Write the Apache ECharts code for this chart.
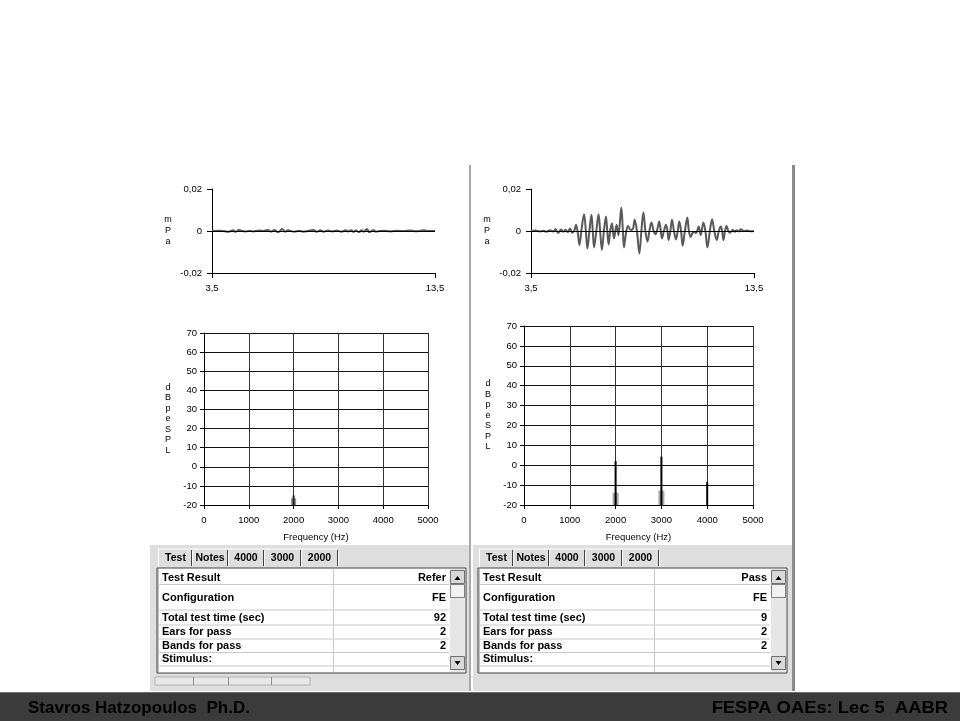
<!DOCTYPE html>
<html><head><meta charset="utf-8">
<script src="https://cdn.jsdelivr.net/npm/echarts@6/dist/echarts.min.js"></script>
<style>html,body{margin:0;padding:0;background:#fff}#c{width:960px;height:721px}</style>
</head><body><div id="c"></div><script>
// ---------- DATA ----------
// Time waveforms (ms, mPa)
const waveLeft = [[3.5,0],[3.9,0.0001],[4.25,-0.0004],[4.45,0.0004],[4.55,-0.0004],[4.7,0.0005],[4.85,0],[5.0,-0.0002],[5.2,0.0001],[5.35,-0.0002],[5.6,0.0002],[5.8,0],[6.0,0.0005],[6.15,-0.0003],[6.3,0.0005],[6.45,-0.0006],[6.55,0],[6.65,0.001],[6.78,-0.0003],[6.9,0.0004],[7.0,0.0001],[7.2,-0.0003],[7.4,0.0001],[7.6,-0.0003],[7.8,0],[8.05,0.0005],[8.2,-0.0004],[8.35,0.0004],[8.5,-0.0003],[8.7,0.0002],[8.9,-0.0002],[9.1,0.0002],[9.3,-0.0003],[9.5,0.0003],[9.6,-0.0002],[9.75,0.0004],[9.85,-0.0004],[9.95,0.0002],[10.1,-0.0005],[10.2,0.0003],[10.3,-0.0003],[10.45,0.001],[10.55,-0.0006],[10.65,0],[10.75,0.0004],[10.85,-0.0004],[11.0,0],[11.2,0.0001],[11.5,-0.0002],[11.8,0.0001],[12.1,0],[12.4,0.0002],[12.7,-0.0001],[13.0,0.0003],[13.2,0],[13.5,0]];
const waveRight = [[3.5,0],[3.7,0.0002],[3.9,-0.0002],[4.05,0.0001],[4.2,-0.0003],[4.35,0.0004],[4.5,-0.0002],[4.6,0.0008],[4.72,-0.0009],[4.85,0.0007],[4.95,-0.0004],[5.05,0.0006],[5.15,-0.0005],[5.25,0.0012],[5.35,-0.0008],[5.45,0.0004],[5.52,0.003],[5.6,-0.001],[5.67,-0.0067],[5.78,0.002],[5.88,0.008],[5.96,0],[6.03,-0.0083],[6.12,0],[6.21,0.0077],[6.27,0],[6.33,-0.0078],[6.43,0],[6.53,0.008],[6.6,0],[6.68,-0.009],[6.77,0],[6.86,0.0069],[6.92,0],[6.98,-0.0064],[7.05,0],[7.13,0.0037],[7.22,-0.0035],[7.34,0.003],[7.42,-0.002],[7.55,0.0112],[7.62,0],[7.67,-0.0078],[7.76,-0.001],[7.85,0.0024],[7.97,0.0005],[8.07,0.001],[8.15,0.0053],[8.25,0],[8.36,-0.0107],[8.45,0],[8.54,0.0088],[8.63,0],[8.72,-0.005],[8.81,0],[8.9,0.004],[9.0,0],[9.08,-0.0015],[9.17,0.001],[9.25,0.0045],[9.32,0],[9.37,-0.0035],[9.46,0],[9.55,0.003],[9.62,0],[9.67,-0.0043],[9.75,0],[9.82,0.0053],[9.91,0],[10.0,-0.004],[10.08,0],[10.15,0.0045],[10.23,0],[10.3,-0.007],[10.4,0],[10.51,0.0064],[10.58,0],[10.66,-0.0028],[10.74,-0.001],[10.81,-0.0003],[10.9,-0.001],[11.02,0.0021],[11.11,-0.0019],[11.23,0.004],[11.32,0],[11.41,-0.0078],[11.52,0],[11.62,0.0056],[11.72,0],[11.83,-0.0043],[11.92,0],[12.01,0.0021],[12.07,0],[12.13,-0.0043],[12.2,0],[12.27,0.0024],[12.35,0],[12.42,-0.0008],[12.55,0.0005],[12.65,-0.0003],[12.72,0.0004],[12.82,-0.0002],[12.9,0.0008],[13.05,0],[13.2,0.0002],[13.35,-0.0001],[13.5,0]];
const waveXTicks = [3.5, 13.5];
// Spectra (Hz, dB peSPL)
const specLeftNoise = [[2000,-16.5]];
const specLeftSignal = [[2000,-15]];
const specRightNoise = [[2000,-13.8],[3000,-12.8]];
const specRightSignal = [[2000,2.1],[3000,4.3],[4000,-8.4]];
// Result tables
const tabNames = ['Test','Notes','4000','3000','2000'];
const rowLabels = ['Test Result','Configuration','Total test time (sec)','Ears for pass','Bands for pass','Stimulus:'];
const leftValues = ['Refer','FE','92','2','2',''];
const rightValues = ['Pass','FE','9','2','2',''];
const footerLeft = 'Stavros Hatzopoulos  Ph.D.';
const footerRight = 'FESPA OAEs: Lec 5  AABR';

// ---------- CHART ----------
const FONT = '"Liberation Sans", Arial, sans-serif';
const chart = echarts.init(document.getElementById('c'), null, {renderer:'canvas'});
const comma = v => String(v).replace('.', ',');

function waveX(idx){
  return {gridIndex:idx, type:'value', min:3.5, max:13.5, interval:10,
    axisLine:{show:true, onZero:false, lineStyle:{color:'#000', width:1}},
    axisTick:{show:true, length:5, customValues:waveXTicks, lineStyle:{color:'#000'}},
    axisLabel:{show:true, customValues:waveXTicks, formatter:comma, fontSize:9.5, color:'#000', fontFamily:FONT, margin:10},
    splitLine:{show:false}};
}
function waveY(idx){
  return {gridIndex:idx, type:'value', min:-0.02, max:0.02, interval:0.02,
    name:'m\nP\na', nameLocation:'middle', nameRotate:0, nameGap:44,
    nameTextStyle:{fontSize:9, color:'#000', fontFamily:FONT, lineHeight:11, align:'center'},
    axisLine:{show:true, lineStyle:{color:'#000', width:1}},
    axisTick:{show:true, length:5, lineStyle:{color:'#000'}},
    axisLabel:{formatter:v => Math.abs(v)<1e-9 ? '0' : v.toFixed(2).replace('.', ','), fontSize:9.5, color:'#000', fontFamily:FONT, margin:10},
    splitLine:{show:false}};
}
function specX(idx){
  return {gridIndex:idx, type:'value', min:0, max:5000, interval:1000,
    name:'Frequency (Hz)', nameLocation:'middle', nameGap:27,
    nameTextStyle:{fontSize:9.5, color:'#000', fontFamily:FONT},
    axisLine:{show:true, onZero:false, lineStyle:{color:'#000', width:1}},
    axisTick:{show:true, length:4, lineStyle:{color:'#000'}},
    axisLabel:{formatter:v => String(v), fontSize:9.5, color:'#000', fontFamily:FONT, margin:10},
    splitLine:{show:true, showMinLine:true, showMaxLine:true, lineStyle:{color:'#333333', width:1}}};
}
function specY(idx){
  return {gridIndex:idx, type:'value', min:-20, max:70, interval:10,
    name:'d\nB\np\ne\nS\nP\nL', nameLocation:'middle', nameRotate:0, nameGap:36,
    nameTextStyle:{fontSize:9, color:'#000', fontFamily:FONT, lineHeight:10.5, align:'center'},
    axisLine:{show:true, lineStyle:{color:'#000', width:1}},
    axisTick:{show:true, length:4, lineStyle:{color:'#000'}},
    axisLabel:{fontSize:9.5, color:'#000', fontFamily:FONT, margin:7},
    splitLine:{show:true, showMinLine:true, showMaxLine:true, lineStyle:{color:'#111111', width:1}}};
}
function waveSeries(idx, data){
  return {type:'line', xAxisIndex:idx, yAxisIndex:idx, data:data, showSymbol:false, smooth:0.35,
    lineStyle:{color:'#5a5a5a', width:2}, silent:true, animation:false, z:3,
    markLine:{silent:true, symbol:'none', label:{show:false}, animation:false,
      lineStyle:{color:'#000', width:1, type:'solid'}, data:[{yAxis:0}]}};
}
function barSeries(idx, data, width, color, z){
  return {type:'custom', xAxisIndex:idx, yAxisIndex:idx, data:data, encode:{x:0, y:1}, z:z, silent:true, animation:false,
    renderItem:function(params, api){
      const top = api.coord([api.value(0), api.value(1)]);
      const base = api.coord([api.value(0), -20]);
      return {type:'rect', shape:{x:top[0]-width/2, y:top[1], width:width, height:base[1]-top[1]}, style:{fill:color}};
    }};
}

// ---------- UI chrome (tables, panels, footer) ----------
function panelGraphics(dx, values){
  const g = [];
  const tx0 = 157 + dx, tx1 = 449 + dx, colX = 333 + dx;
  const tTop = 569, tBot = 672;
  const rowLines = [584.5, 610, 625, 639, 652.5, 666];
  const rowCenters = [577.5, 597.5, 617.5, 632, 645.5, 659];
  const tabEdges = [158, 191, 227, 263, 300, 337];
  g.push({type:'line', shape:{x1:tabEdges[0]+dx, y1:549, x2:tabEdges[5]+dx, y2:549}, style:{stroke:'#ffffff', lineWidth:1}});
  g.push({type:'line', shape:{x1:tabEdges[0]+dx+0.5, y1:549, x2:tabEdges[0]+dx+0.5, y2:568}, style:{stroke:'#ffffff', lineWidth:1}});
  for (let i = 1; i < tabEdges.length; i++) {
    g.push({type:'line', shape:{x1:tabEdges[i]+dx+0.5, y1:550, x2:tabEdges[i]+dx+0.5, y2:566}, style:{stroke:'#404040', lineWidth:1}});
    g.push({type:'line', shape:{x1:tabEdges[i]+dx+1.5, y1:551, x2:tabEdges[i]+dx+1.5, y2:566}, style:{stroke:'#ffffff', lineWidth:1}});
  }
  tabNames.forEach((t, i) => {
    g.push({type:'text', x:(tabEdges[i]+tabEdges[i+1])/2 + dx + 1, y:558,
      style:{text:t, fill:'#000', font:'bold 10.5px ' + FONT, textAlign:'center', textVerticalAlign:'middle'}});
  });
  g.push({type:'rect', shape:{x:tx0, y:tTop-1, width:466+dx-tx0, height:tBot-tTop+2}, style:{fill:'#ffffff', stroke:'#404040', lineWidth:1}});
  g.push({type:'line', shape:{x1:tx0+1, y1:tTop, x2:tx0+1, y2:tBot}, style:{stroke:'#808080', lineWidth:1}});
  rowLines.forEach(y => g.push({type:'line', shape:{x1:tx0+1, y1:y, x2:tx1, y2:y}, style:{stroke:'#c8c8c8', lineWidth:1}}));
  g.push({type:'line', shape:{x1:colX+0.5, y1:tTop, x2:colX+0.5, y2:tBot}, style:{stroke:'#c8c8c8', lineWidth:1}});
  rowLabels.forEach((t, i) => {
    g.push({type:'text', x:tx0+5, y:rowCenters[i], style:{text:t, fill:'#000', font:'bold 11px ' + FONT, textVerticalAlign:'middle'}});
    if (values[i]) g.push({type:'text', x:tx1-3, y:rowCenters[i], style:{text:values[i], fill:'#000', font:'bold 11px ' + FONT, textAlign:'right', textVerticalAlign:'middle'}});
  });
  const sx = 450 + dx;
  g.push({type:'rect', shape:{x:sx, y:tTop, width:15, height:tBot-tTop}, style:{fill:'#e6e6e6'}});
  const btn = (y, h) => g.push({type:'rect', shape:{x:sx+0.5, y:y+0.5, width:14, height:h}, style:{fill:'#d8d8d8', stroke:'#707070', lineWidth:1}});
  btn(tTop+1, 13); btn(656, 13);
  g.push({type:'rect', shape:{x:sx+0.5, y:584.5, width:14, height:13}, style:{fill:'#f2f2f2', stroke:'#808080', lineWidth:1}});
  g.push({type:'polygon', shape:{points:[[sx+4.5,580],[sx+10.5,580],[sx+7.5,576]]}, style:{fill:'#000'}});
  g.push({type:'polygon', shape:{points:[[sx+4.5,661],[sx+10.5,661],[sx+7.5,665]]}, style:{fill:'#000'}});
  return g;
}

const graphics = [];
graphics.push({type:'rect', shape:{x:150, y:545, width:319, height:146}, style:{fill:'#dedede'}, z:-10});
graphics.push({type:'rect', shape:{x:473, y:545, width:319, height:146}, style:{fill:'#dedede'}, z:-10});
graphics.push({type:'rect', shape:{x:469, y:165, width:2, height:526}, style:{fill:'#a8a8a8'}});
graphics.push({type:'rect', shape:{x:792, y:165, width:3, height:526}, style:{fill:'#8a8a8a'}});
graphics.push(...panelGraphics(0, leftValues));
graphics.push(...panelGraphics(321, rightValues));
graphics.push({type:'rect', shape:{x:155, y:677, width:155, height:8}, style:{fill:'#e8e8e8', stroke:'#b0b0b0', lineWidth:1}});
[193, 228, 271].forEach(x => graphics.push({type:'line', shape:{x1:x+0.5, y1:677, x2:x+0.5, y2:685}, style:{stroke:'#909090', lineWidth:1}}));
graphics.push({type:'rect', shape:{x:0, y:692, width:960, height:29}, style:{fill:'#3b3b3b'}});
graphics.push({type:'line', shape:{x1:0, y1:692.5, x2:960, y2:692.5}, style:{stroke:'#707070', lineWidth:1}});
graphics.push({type:'text', x:28, y:708, style:{text:footerLeft, fill:'#000', font:'bold 17px ' + FONT, textVerticalAlign:'middle'}});
graphics.push({type:'text', x:948, y:708, scaleX:1.08, style:{text:footerRight, fill:'#000', font:'bold 17px ' + FONT, textAlign:'right', textVerticalAlign:'middle'}});

chart.setOption({
  backgroundColor:'#ffffff',
  animation:false,
  grid:[
    {left:212, top:189, width:223, height:84, containLabel:false},
    {left:531, top:189, width:223, height:84, containLabel:false},
    {left:204, top:333, width:224, height:172, containLabel:false},
    {left:524, top:326, width:229, height:179, containLabel:false}
  ],
  xAxis:[waveX(0), waveX(1), specX(2), specX(3)],
  yAxis:[waveY(0), waveY(1), specY(2), specY(3)],
  series:[
    waveSeries(0, waveLeft),
    waveSeries(1, waveRight),
    barSeries(2, specLeftNoise, 5, '#909090', 4),
    barSeries(2, specLeftSignal, 2, '#202020', 5),
    barSeries(3, specRightNoise, 6, '#a8a8a8', 4),
    barSeries(3, specRightSignal, 2, '#000000', 5)
  ],
  graphic:{elements:graphics}
});
</script></body></html>
